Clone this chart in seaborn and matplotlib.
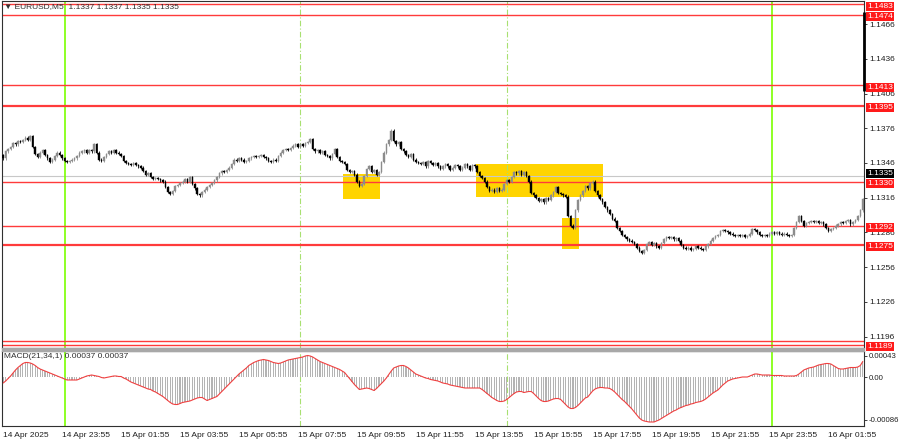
import numpy as np
import pandas as pd
import matplotlib
matplotlib.use("Agg")
import matplotlib.pyplot as plt
import matplotlib.transforms as mtransforms
from matplotlib.patches import Rectangle
import seaborn as sns

# EURUSD M5 closes, one per bar (14 Apr 21:55 -> 16 Apr 03:05)
closes = [
    1.1350, 1.1356, 1.1358, 1.1360, 1.1363, 1.1362, 1.1365, 1.1364, 1.1366, 1.1368,
    1.1366, 1.1369, 1.1360, 1.1354, 1.1351, 1.1355, 1.1357, 1.1353, 1.1350, 1.1347,
    1.1349, 1.1352, 1.1355, 1.1353, 1.1350, 1.1348, 1.1347, 1.1348, 1.1349, 1.1350,
    1.1352, 1.1355, 1.1356, 1.1357, 1.1355, 1.1357, 1.1356, 1.1362, 1.1355, 1.1349,
    1.1348, 1.1351, 1.1354, 1.1356, 1.1355, 1.1357, 1.1355, 1.1354, 1.1352, 1.1348,
    1.1346, 1.1345, 1.1344, 1.1346, 1.1344, 1.1343, 1.1342, 1.1339, 1.1336, 1.1337,
    1.1334, 1.1332, 1.1333, 1.1332, 1.1331, 1.1330, 1.1325, 1.1321, 1.1319, 1.1322,
    1.1326, 1.1327, 1.1329, 1.1330, 1.1332, 1.1330, 1.1334, 1.1328, 1.1324, 1.1319,
    1.1318, 1.1321, 1.1323, 1.1325, 1.1327, 1.1329, 1.1331, 1.1334, 1.1337, 1.1339,
    1.1338, 1.1340, 1.1342, 1.1345, 1.1349, 1.1348, 1.1350, 1.1349, 1.1347, 1.1348,
    1.1350, 1.1351, 1.1352, 1.1351, 1.1352, 1.1353, 1.1351, 1.1350, 1.1348, 1.1347,
    1.1349, 1.1348, 1.1352, 1.1355, 1.1357, 1.1358, 1.1357, 1.1359, 1.1361, 1.1362,
    1.1360, 1.1362, 1.1361, 1.1363, 1.1364, 1.1367, 1.1358, 1.1356, 1.1357, 1.1355,
    1.1356, 1.1353, 1.1352, 1.1350, 1.1354, 1.1358, 1.1351, 1.1348, 1.1347, 1.1345,
    1.1340, 1.1338, 1.1339, 1.1336, 1.1330, 1.1326, 1.1328, 1.1335, 1.1341, 1.1343,
    1.1338, 1.1340, 1.1336, 1.1338, 1.1347, 1.1355, 1.1362, 1.1366, 1.1374, 1.1365,
    1.1362, 1.1364, 1.1358, 1.1356, 1.1353, 1.1351, 1.1354, 1.1349, 1.1347, 1.1346,
    1.1345, 1.1347, 1.1343, 1.1348, 1.1346, 1.1344, 1.1346, 1.1343, 1.1341, 1.1343,
    1.1345, 1.1343, 1.1340, 1.1342, 1.1344, 1.1343, 1.1340, 1.1342, 1.1345, 1.1343,
    1.1340, 1.1344, 1.1343, 1.1338, 1.1335, 1.1333, 1.1330, 1.1325, 1.1322, 1.1323,
    1.1321, 1.1324, 1.1322, 1.1323, 1.1328, 1.1331, 1.1330, 1.1334, 1.1338, 1.1337,
    1.1339, 1.1336, 1.1338, 1.1335, 1.1330, 1.1320, 1.1318, 1.1316, 1.1313, 1.1315,
    1.1312, 1.1316, 1.1314, 1.1318, 1.1321, 1.1325, 1.1320, 1.1319, 1.1318, 1.1317,
    1.1300, 1.1292, 1.1290, 1.1305, 1.1314, 1.1318, 1.1322, 1.1326, 1.1324, 1.1329,
    1.1330, 1.1322, 1.1318, 1.1315, 1.1312, 1.1308, 1.1305, 1.1302, 1.1298, 1.1296,
    1.1290, 1.1287, 1.1284, 1.1282, 1.1280, 1.1279, 1.1278, 1.1276, 1.1273, 1.1270,
    1.1268, 1.1271, 1.1276, 1.1278, 1.1275, 1.1277, 1.1274, 1.1273, 1.1277, 1.1280,
    1.1282, 1.1281, 1.1282, 1.1280, 1.1281, 1.1279, 1.1275, 1.1273, 1.1272, 1.1273,
    1.1271, 1.1272, 1.1274, 1.1273, 1.1272, 1.1271, 1.1274, 1.1276, 1.1279, 1.1281,
    1.1283, 1.1284, 1.1287, 1.1288, 1.1287, 1.1286, 1.1285, 1.1284, 1.1283, 1.1284,
    1.1283, 1.1284, 1.1282, 1.1283, 1.1285, 1.1289, 1.1288, 1.1286, 1.1284, 1.1283,
    1.1284, 1.1283, 1.1285, 1.1286, 1.1285, 1.1286, 1.1285, 1.1284, 1.1285, 1.1284,
    1.1283, 1.1284, 1.1290, 1.1295, 1.1300, 1.1296, 1.1292, 1.1294, 1.1295, 1.1296,
    1.1295, 1.1296, 1.1294, 1.1295, 1.1293, 1.1290, 1.1287, 1.1289, 1.1290, 1.1292,
    1.1293, 1.1295, 1.1294, 1.1296, 1.1297, 1.1293, 1.1295, 1.1297, 1.1300, 1.1305,
    1.1315,
]
first_open = 1.1353

# MACD(21,34,1) per bar, in units of 1e-5
macd_e5 = [
    -12, -8, -3, 2, 8, 14, 19, 23, 27, 29,
    29, 28, 26, 23, 19, 16, 14, 12, 10, 8,
    6, 4, 2, 0, -2, -4, -6, -6, -6, -6,
    -6, -4, -2, 0, 2, 3, 4, 3, 2, 1,
    -1, -2, -1, 0, 1, 2, 2, 1, 1, -2,
    -4, -7, -10, -12, -14, -16, -18, -20, -22, -24,
    -25, -28, -30, -33, -36, -39, -43, -47, -51, -54,
    -55, -55, -53, -51, -50, -49, -48, -46, -44, -42,
    -41, -41, -44, -47, -45, -43, -41, -39, -34, -29,
    -24, -19, -14, -9, -4, 1, 6, 10, 14, 18,
    23, 26, 29, 31, 33, 34, 35, 34, 33, 31,
    29, 28, 27, 28, 30, 32, 34, 35, 36, 37,
    38, 39, 40, 42, 43, 42, 40, 37, 34, 31,
    29, 27, 25, 23, 21, 19, 17, 15, 12, 9,
    3, -3, -9, -15, -20, -25, -24, -23, -22, -23,
    -25, -27, -23, -18, -13, -8, -2, 5, 12, 18,
    20, 22, 23, 23, 21, 18, 14, 10, 6, 4,
    2, 0, -2, -3, -5, -6, -7, -8, -10, -12,
    -13, -14, -16, -17, -18, -19, -20, -21, -22, -22,
    -22, -22, -22, -22, -22, -25, -29, -33, -37, -41,
    -44, -47, -49, -49, -48, -45, -41, -37, -33, -30,
    -29, -29, -31, -30, -29, -29, -33, -38, -43, -47,
    -49, -49, -48, -46, -44, -43, -43, -45, -50, -55,
    -60, -63, -63, -61, -57, -52, -47, -42, -40, -34,
    -28, -24, -22, -21, -21, -22, -22, -23, -26, -30,
    -35, -40, -45, -49, -54, -59, -64, -70, -76, -82,
    -86, -88, -89, -90, -90, -90, -88, -86, -83, -80,
    -77, -74, -71, -68, -66, -63, -61, -59, -57, -56,
    -54, -53, -51, -50, -49, -47, -44, -40, -36, -32,
    -29, -26, -21, -16, -12, -8, -6, -4, -3, -2,
    -1, 0, 0, 0, 2, 4, 6, 6, 5, 4,
    4, 4, 4, 3, 3, 3, 3, 3, 2, 2,
    2, 2, 2, 3, 6, 10, 14, 16, 18, 19,
    20, 22, 24, 25, 26, 27, 27, 26, 23, 20,
    17, 16, 16, 17, 18, 19, 19, 19, 20, 23, 31,
]

levels = [1.1483, 1.1474, 1.1413, 1.1395, 1.1330, 1.1292, 1.1275, 1.1192, 1.1189]
level_labels = ["1.1483", "1.1474", "1.1413", "1.1395", "1.1330", "1.1292", "1.1275", "", "1.1189"]
level_widths = [1.0, 1.0, 1.0, 1.6, 1.0, 1.0, 1.6, 1.0, 1.0]
bid = 1.1335

price_ticks = [1.1466, 1.1436, 1.1406, 1.1376, 1.1346, 1.1316, 1.1286, 1.1256, 1.1226, 1.1196]
macd_ticks = [0.00043, 0.0, -0.00086]
macd_tick_labels = ["0.00043", "0.00", "-0.00086"]

time_labels = ["14 Apr 2025", "14 Apr 23:55", "15 Apr 01:55", "15 Apr 03:55", "15 Apr 05:55",
               "15 Apr 07:55", "15 Apr 09:55", "15 Apr 11:55", "15 Apr 13:55", "15 Apr 15:55",
               "15 Apr 17:55", "15 Apr 19:55", "15 Apr 21:55", "15 Apr 23:55", "16 Apr 01:55"]
bars_per_label = 24

day_lines = [25, 313]        # 15 Apr 00:00, 16 Apr 00:00
session_lines = [121, 205]   # 15 Apr 08:00, 15 Apr 15:00

# signal zones: (first bar, last bar, low, high)
zones = [(138.3, 153.4, 1.13149, 1.13365),
         (192.5, 244.2, 1.13166, 1.13451),
         (227.5, 234.4, 1.12717, 1.12985)]

df = pd.DataFrame({"close": closes})
df["bar"] = np.arange(len(df))
df["open"] = [first_open] + closes[:-1]
df["high"] = df[["open", "close"]].max(axis=1) + 0.0001
df["low"] = df[["open", "close"]].min(axis=1) - 0.0001
df["macd"] = np.array(macd_e5) * 1e-5

sns.set_theme(style="white")
plt.rcParams["font.family"] = ["Liberation Sans", "DejaVu Sans"]
fs = 6.0
fs_macd = 5.6

W, H = 900, 441
fig = plt.figure(figsize=(W / 100, H / 100), dpi=100)
fig.patch.set_facecolor("white")
x0, x1 = 2, 864
ax = fig.add_axes([x0 / W, (H - 348) / H, (x1 - x0) / W, 347 / H])
axm = fig.add_axes([x0 / W, (H - 426) / H, (x1 - x0) / W, 75 / H], sharex=ax)
fig.patches.append(Rectangle((x0 / W, (H - 351) / H), (x1 - x0) / W, 3 / H,
                             transform=fig.transFigure, color="#a8a8a8", zorder=0))

n = len(df)
ax.set_xlim(-0.5, n - 0.5)
ax.set_ylim(1.11862, 1.14859)
axm.set_ylim(-98e-5, 52e-5)

# zones
for b0, b1, lo, hi in zones:
    ax.add_patch(Rectangle((b0, lo), b1 - b0, hi - lo, color="#ffd400", lw=0, zorder=1))

# levels
for lv, lw in zip(levels, level_widths):
    ax.axhline(lv, color="#ff3b3b", lw=lw, zorder=2)
ax.axhline(bid, color="#c8c8c8", lw=0.8, zorder=1.5)

# vertical separators
for a in (ax, axm):
    for b in day_lines:
        a.axvline(b, color="#7cff00", lw=1.2, zorder=1.8)
    for b in session_lines:
        a.axvline(b, color="#a8e070", lw=0.8, ls=(0, (5, 2, 1, 2)), zorder=1.8)

# candles
up = df["close"] >= df["open"]
cols = np.where(up, "#8c8c8c", "#000000")
ax.vlines(df["bar"], df["low"], df["high"], colors=cols, lw=0.6, zorder=3)
ax.bar(df["bar"], (df["close"] - df["open"]).abs().clip(lower=0.00003),
       bottom=df[["open", "close"]].min(axis=1), width=0.62, color=cols,
       edgecolor=cols, lw=0.3, zorder=3)
ax.vlines(n - 0.5, 1.1408, 1.1476, colors="black", lw=2.0, zorder=4, clip_on=False)

# MACD
axm.bar(df["bar"], df["macd"], width=0.45, color="#b4b4b4", lw=0, zorder=2)
sns.lineplot(data=df, x="bar", y="macd", ax=axm, color="#f04040", lw=0.8, zorder=3)
axm.set_xlabel("")
axm.set_ylabel("")
axm.set_xlim(-0.5, n - 0.5)

# axes styling
for a in (ax, axm):
    for s in a.spines.values():
        s.set_color("#303030")
        s.set_linewidth(0.8)
    a.yaxis.tick_right()
    a.tick_params(axis="y", which="both", direction="out", length=2.5, width=0.6,
                  labelsize=fs, pad=1, colors="#202020")
    a.grid(False)

ax.set_yticks(price_ticks)
ax.set_yticklabels([f"{p:.4f}" for p in price_ticks])
ax.tick_params(axis="x", bottom=False, labelbottom=False)

axm.set_yticks(macd_ticks)
axm.set_yticklabels(macd_tick_labels)
axm.tick_params(axis="y", labelsize=fs_macd)
tick_bars = [i * bars_per_label for i in range(len(time_labels))]
axm.set_xticks(tick_bars)
axm.set_xticklabels(time_labels, ha="left")
axm.tick_params(axis="x", direction="out", length=3, width=0.6, labelsize=fs, pad=1,
                colors="#202020")

# right-side price boxes
trans = mtransforms.blended_transform_factory(ax.transAxes, ax.transData)
for lv, lab in zip(levels, level_labels):
    if lab:
        ax.annotate(lab, xy=(1.004, lv), xycoords=trans, xytext=(0, -1.2),
                    textcoords="offset points", ha="left", va="center", fontsize=fs,
                    color="white", zorder=7, annotation_clip=False,
                    bbox=dict(boxstyle="square,pad=0.12", fc="#ff1a1a", ec="none"))
ax.annotate(f"{bid:.4f}", xy=(1.004, bid), xycoords=trans, xytext=(0, 1.8),
            textcoords="offset points", ha="left", va="center", fontsize=fs,
            color="white", zorder=6, annotation_clip=False,
            bbox=dict(boxstyle="square,pad=0.12", fc="black", ec="none"))

# headers
fig.text(4 / W, 1 - 7 / H, "\u25bc EURUSD,M5  1.1337 1.1337 1.1335 1.1335",
         fontsize=fs, va="center", ha="left", color="#303030")
fig.text(4 / W, 1 - 357 / H, "MACD(21,34,1) 0.00037 0.00037",
         fontsize=fs, va="center", ha="left", color="#303030")

fig.savefig("out.png", dpi=100, facecolor="white")
